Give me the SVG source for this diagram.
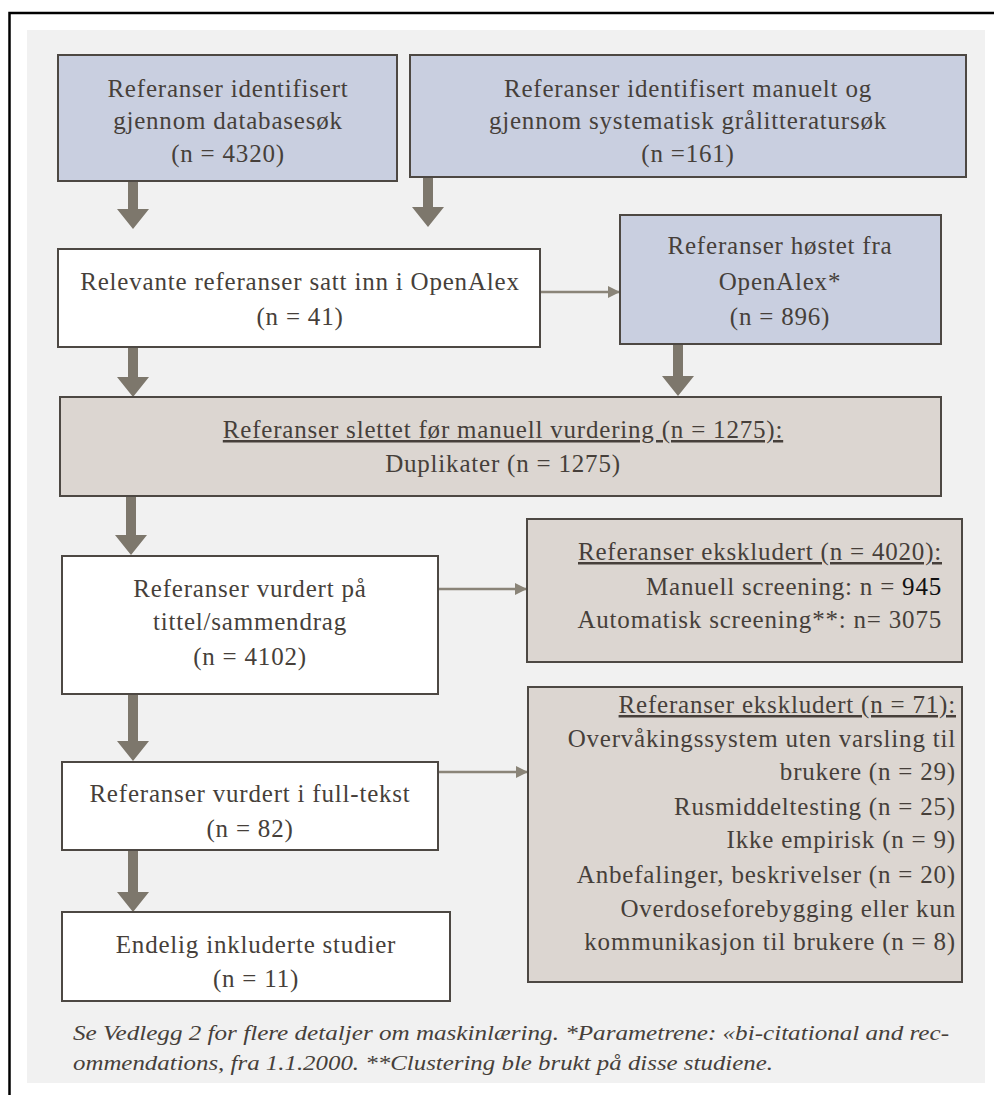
<svg xmlns="http://www.w3.org/2000/svg" width="994" height="1095" viewBox="0 0 994 1095">
<style>
.t{font-family:"Liberation Serif","Times New Roman",serif;font-size:25px;letter-spacing:0.8px;fill:#463f3a;text-anchor:middle}
.r{text-anchor:end}
.u{text-decoration:underline}
.blue{fill:#c9cfe0;stroke:#4d4843;stroke-width:2}
.white{fill:#ffffff;stroke:#4d4843;stroke-width:2}
.beige{fill:#dcd6d1;stroke:#4d4843;stroke-width:2}
.thick{fill:#7d776c}
.thin{stroke:#8a8478;stroke-width:2.5;fill:none}
.cap{font-family:"Liberation Serif","Times New Roman",serif;font-size:21px;font-style:italic;fill:#463f3a}
</style>
<defs>
<marker id="ah" markerWidth="12" markerHeight="12" refX="11" refY="6" orient="auto" markerUnits="userSpaceOnUse">
<path d="M0,0 L12,6 L0,12 Z" fill="#8a8478"/>
</marker>
</defs>
<rect x="0" y="0" width="994" height="1095" fill="#ffffff"/>
<path d="M9.5,1095 L9.5,13 L994,13" fill="none" stroke="#000" stroke-width="2.5"/>
<rect x="27" y="30" width="958" height="1053" fill="#f1f1f1"/>

<g id="connectors">
<path class="thick" d="M128,181 h10 v28 h11 l-16,20 l-16,-20 h11 z"/>
<path class="thick" d="M423,177 h10 v30 h11 l-16,20 l-16,-20 h11 z"/>
<path class="thick" d="M128,347 h10 v30 h11 l-16,20 l-16,-20 h11 z"/>
<path class="thick" d="M673,344 h10 v32 h11 l-16,20 l-16,-20 h11 z"/>
<path class="thick" d="M126,496 h10 v39 h11 l-16,20 l-16,-20 h11 z"/>
<path class="thick" d="M128,694 h10 v47 h11 l-16,20 l-16,-20 h11 z"/>
<path class="thick" d="M128,850 h10 v42 h11 l-16,20 l-16,-20 h11 z"/>
<line class="thin" x1="540" y1="292" x2="619" y2="292" marker-end="url(#ah)"/>
<line class="thin" x1="438" y1="589" x2="526" y2="589" marker-end="url(#ah)"/>
<line class="thin" x1="438" y1="772" x2="527" y2="772" marker-end="url(#ah)"/>
</g>

<g id="n1">
<rect class="blue" x="58" y="55" width="339" height="126"/>
<text class="t" x="228" y="97">Referanser identifisert</text>
<text class="t" x="228" y="129">gjennom databasesøk</text>
<text class="t" x="228" y="162">(n = 4320)</text>
</g>
<g id="n2">
<rect class="blue" x="410" y="55" width="556" height="122"/>
<text class="t" x="688" y="97">Referanser identifisert manuelt og</text>
<text class="t" x="688" y="129">gjennom systematisk grålitteratursøk</text>
<text class="t" x="688" y="162">(n =161)</text>
</g>
<g id="n3">
<rect class="white" x="58" y="249" width="482" height="98"/>
<text class="t" x="300" y="290">Relevante referanser satt inn i OpenAlex</text>
<text class="t" x="300" y="325">(n = 41)</text>
</g>
<g id="n4">
<rect class="blue" x="620" y="215" width="321" height="129"/>
<text class="t" x="780" y="254">Referanser høstet fra</text>
<text class="t" x="780" y="290">OpenAlex*</text>
<text class="t" x="780" y="325">(n = 896)</text>
</g>
<g id="n5">
<rect class="beige" x="60" y="397" width="881" height="99"/>
<text class="t u" x="503" y="438">Referanser slettet før manuell vurdering (n = 1275):</text>
<text class="t" x="503" y="472">Duplikater (n = 1275)</text>
</g>
<g id="n6">
<rect class="white" x="62" y="556" width="376" height="138"/>
<text class="t" x="250" y="597">Referanser vurdert på</text>
<text class="t" x="250" y="630">tittel/sammendrag</text>
<text class="t" x="250" y="665">(n = 4102)</text>
</g>
<g id="n7">
<rect class="white" x="62" y="762" width="376" height="88"/>
<text class="t" x="250" y="802">Referanser vurdert i full-tekst</text>
<text class="t" x="250" y="837">(n = 82)</text>
</g>
<g id="n8">
<rect class="white" x="62" y="912" width="388" height="89"/>
<text class="t" x="256" y="953">Endelig inkluderte studier</text>
<text class="t" x="256" y="987">(n = 11)</text>
</g>
<g id="n10">
<rect class="beige" x="527" y="519" width="435" height="143"/>
<text class="t r u" x="942" y="560">Referanser ekskludert (n = 4020):</text>
<text class="t r" x="942" y="595">Manuell screening: n = <tspan fill="#111111">945</tspan></text>
<text class="t r" x="942" y="628">Automatisk screening**: n= 3075</text>
</g>
<g id="n9">
<rect class="beige" x="528" y="687" width="434" height="295"/>
<text class="t r u" x="956" y="713">Referanser ekskludert (n = 71):</text>
<text class="t r" x="956" y="747">Overvåkingssystem uten varsling til</text>
<text class="t r" x="956" y="780">brukere (n = 29)</text>
<text class="t r" x="956" y="815">Rusmiddeltesting (n = 25)</text>
<text class="t r" x="956" y="848">Ikke empirisk (n = 9)</text>
<text class="t r" x="956" y="883">Anbefalinger, beskrivelser (n = 20)</text>
<text class="t r" x="956" y="917">Overdoseforebygging eller kun</text>
<text class="t r" x="956" y="950">kommunikasjon til brukere (n = 8)</text>
</g>
<g id="caption">
<text class="cap" x="73" y="1040" textLength="876" lengthAdjust="spacingAndGlyphs">Se Vedlegg 2 for flere detaljer om maskinlæring. *Parametrene: «bi-citational and rec-</text>
<text class="cap" x="73" y="1070" textLength="700" lengthAdjust="spacingAndGlyphs">ommendations, fra 1.1.2000. **Clustering ble brukt på disse studiene.</text>
</g>
</svg>
